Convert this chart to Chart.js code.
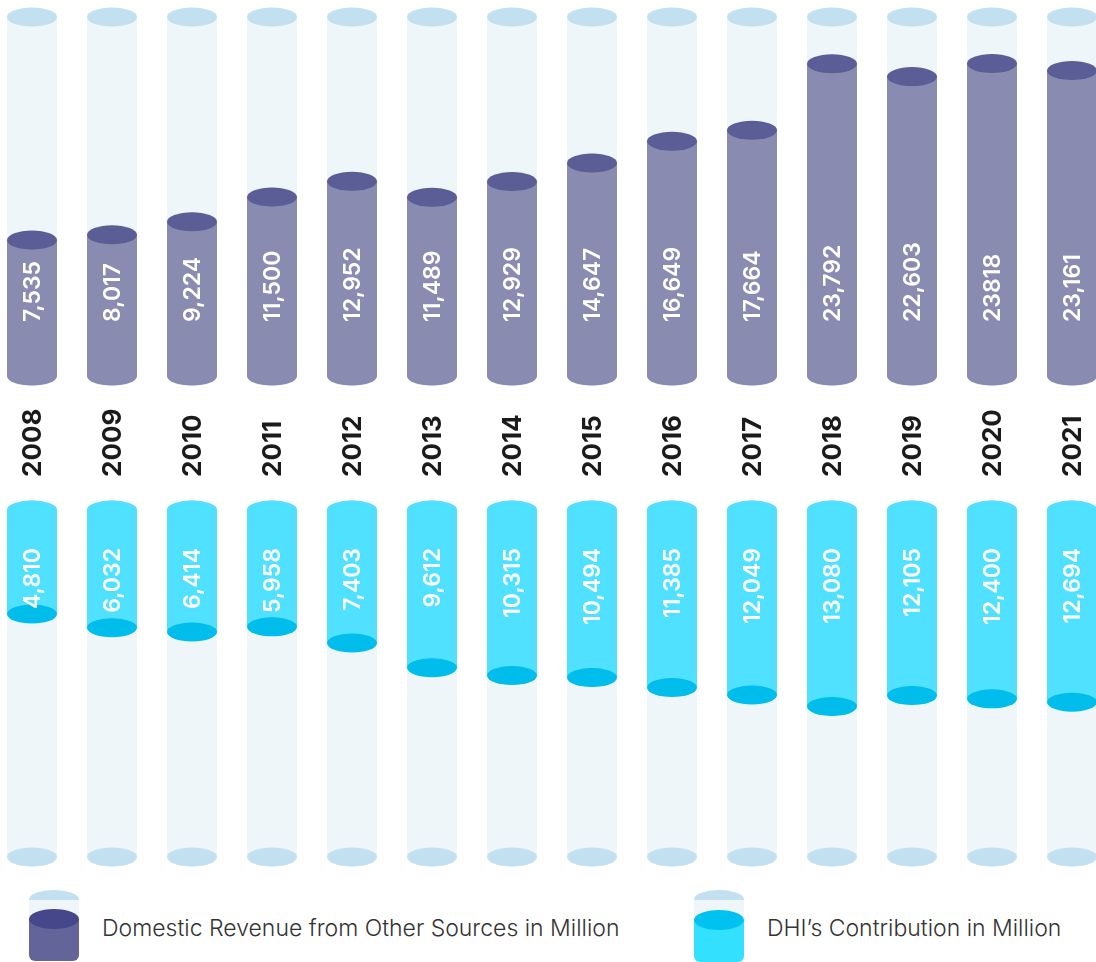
<!DOCTYPE html>
<html>
<head>
<meta charset="utf-8">
<script src="https://cdn.jsdelivr.net/npm/chart.js@4.4.1/dist/chart.umd.min.js"></script>
<style>
  html, body { margin: 0; padding: 0; background: #fff; overflow: hidden; }
  body { width: 1096px; height: 962px; position: relative; font-family: Inter, "Noto Sans", sans-serif; }
  #topChart { position: absolute; left: -8px; top: 0; }
  #bottomChart { position: absolute; left: -8px; top: 490px; }
  .legend-item { position: absolute; top: 890px; height: 72px; }
  .icon { position: absolute; left: 0; top: 0; width: 50px; height: 72px; overflow: hidden; }
  .icon div { position: absolute; left: 0; width: 50px; }
  .legend-text { position: absolute; left: 73px; top: 24px; font-size: 23px; font-weight: 300; color: #333; white-space: nowrap; }
</style>
</head>
<body>
<canvas id="topChart" width="1120" height="490"></canvas>
<canvas id="bottomChart" width="1120" height="400"></canvas>

<div class="legend-item" style="left:29px">
  <div class="icon">
    <div style="top:0;height:19px;border-radius:50%;background:#c3e0f0"></div>
    <div style="top:10px;height:20px;background:#eef6fa"></div>
    <div style="top:29px;height:42px;background:#62649a;border-radius:0 0 6px 6px"></div>
    <div style="top:19px;height:20px;border-radius:50%;background:#45478a"></div>
  </div>
  <div class="legend-text">Domestic Revenue from Other Sources in Million</div>
</div>
<div class="legend-item" style="left:694px">
  <div class="icon">
    <div style="top:0;height:19px;border-radius:50%;background:#c3e0f0"></div>
    <div style="top:10px;height:20px;background:#eef6fa"></div>
    <div style="top:30px;height:42px;background:#33e1ff;border-radius:0 0 6px 6px"></div>
    <div style="top:20px;height:20px;border-radius:50%;background:#00c2f0"></div>
  </div>
  <div class="legend-text">DHI’s Contribution in Million</div>
</div>

<script>
// dados
const years = ['2008','2009','2010','2011','2012','2013','2014','2015','2016','2017','2018','2019','2020','2021'];
const domesticRevenue = [7535, 8017, 9224, 11500, 12952, 11489, 12929, 14647, 16649, 17664, 23792, 22603, 23818, 23161];
const domesticLabels = ['7,535','8,017','9,224','11,500','12,952','11,489','12,929','14,647','16,649','17,664','23,792','22,603','23818','23,161'];
const dhiContribution = [4810, 6032, 6414, 5958, 7403, 9612, 10315, 10494, 11385, 12049, 13080, 12105, 12400, 12694];
const dhiLabels = ['4,810','6,032','6,414','5,958','7,403','9,612','10,315','10,494','11,385','12,049','13,080','12,105','12,400','12,694'];

// limites dos eixos (infográfico não começa no zero)
const TOP_MIN = -5000, TOP_MAX = 28100;
const BOT_MIN = -4500, BOT_MAX = 26550;

const RY = 9.5;

function ellipse(ctx, x, y, rx, color) {
  ctx.beginPath();
  ctx.ellipse(x, y, rx, RY, 0, 0, Math.PI * 2);
  ctx.fillStyle = color;
  ctx.fill();
}

// desenha as tampas dos cilindros
const cylinderCaps = {
  id: 'cylinderCaps',
  afterDatasetDraw(chart, args) {
    const ds = chart.data.datasets[args.index];
    const ctx = chart.ctx;
    ctx.save();
    args.meta.data.forEach(el => {
      const rx = el.width / 2;
      ellipse(ctx, el.x, el.base, rx, ds.capBase);
      ellipse(ctx, el.x, el.y, rx, ds.capEnd);
    });
    ctx.restore();
  }
};

// textos girados (valores e anos)
const rotatedLabels = {
  id: 'rotatedLabels',
  afterDatasetsDraw(chart, args, opts) {
    const ctx = chart.ctx;
    const meta = chart.getDatasetMeta(opts.datasetIndex);
    ctx.save();
    meta.data.forEach((el, i) => {
      ctx.save();
      ctx.translate(el.x, el.base + opts.offset);
      ctx.rotate(-Math.PI / 2);
      ctx.font = '600 23px Inter';
      ctx.fillStyle = '#ffffff';
      ctx.textAlign = opts.align;
      ctx.textBaseline = 'middle';
      ctx.fillText(opts.labels[i], 0, 1);
      ctx.restore();
      if (opts.years) {
        ctx.save();
        ctx.translate(el.x, chart.chartArea.bottom + 101);
        ctx.rotate(-Math.PI / 2);
        ctx.font = '700 26px Inter';
        ctx.fillStyle = '#1b1b1b';
        ctx.textAlign = 'left';
        ctx.textBaseline = 'middle';
        ctx.fillText(opts.years[i], 0, 1);
        ctx.restore();
      }
    });
    ctx.restore();
  }
};

const commonX = {
  display: false,
  offset: true,
  grid: { display: false }
};

new Chart(document.getElementById('topChart'), {
  type: 'bar',
  data: {
    labels: years,
    datasets: [
      {
        data: domesticRevenue,
        base: TOP_MIN,
        backgroundColor: '#898bb0',
        capBase: '#898bb0',
        capEnd: '#5b5d96',
        grouped: false,
        order: 0
      },
      {
        data: years.map(() => TOP_MAX),
        base: TOP_MIN,
        backgroundColor: '#eef6fa',
        capBase: '#c3e0f0',
        capEnd: '#c3e0f0',
        grouped: false,
        order: 1
      }
    ]
  },
  options: {
    responsive: false,
    animation: false,
    devicePixelRatio: 1,
    layout: { padding: { top: 17, bottom: 114, left: 0, right: 0 } },
    datasets: { bar: { categoryPercentage: 1, barPercentage: 0.625, borderWidth: 0 } },
    scales: {
      x: commonX,
      y: { display: false, min: TOP_MIN, max: TOP_MAX }
    },
    plugins: {
      legend: { display: false },
      tooltip: { enabled: false },
      rotatedLabels: { datasetIndex: 0, labels: domesticLabels, offset: -54, align: 'left', years: years }
    }
  },
  plugins: [cylinderCaps, rotatedLabels]
});

new Chart(document.getElementById('bottomChart'), {
  type: 'bar',
  data: {
    labels: years,
    datasets: [
      {
        data: dhiContribution,
        base: BOT_MIN,
        backgroundColor: '#4fe1ff',
        capBase: '#4fe1ff',
        capEnd: '#00bdeb',
        grouped: false,
        order: 0
      },
      {
        data: years.map(() => BOT_MAX),
        base: BOT_MIN,
        backgroundColor: '#eef6fa',
        capBase: '#c3e0f0',
        capEnd: '#c3e0f0',
        grouped: false,
        order: 1
      }
    ]
  },
  options: {
    responsive: false,
    animation: false,
    devicePixelRatio: 1,
    layout: { padding: { top: 20, bottom: 33, left: 0, right: 0 } },
    datasets: { bar: { categoryPercentage: 1, barPercentage: 0.625, borderWidth: 0 } },
    scales: {
      x: commonX,
      y: { display: false, reverse: true, min: BOT_MIN, max: BOT_MAX }
    },
    plugins: {
      legend: { display: false },
      tooltip: { enabled: false },
      rotatedLabels: { datasetIndex: 0, labels: dhiLabels, offset: 38, align: 'right' }
    }
  },
  plugins: [cylinderCaps, rotatedLabels]
});
</script>
</body>
</html>
